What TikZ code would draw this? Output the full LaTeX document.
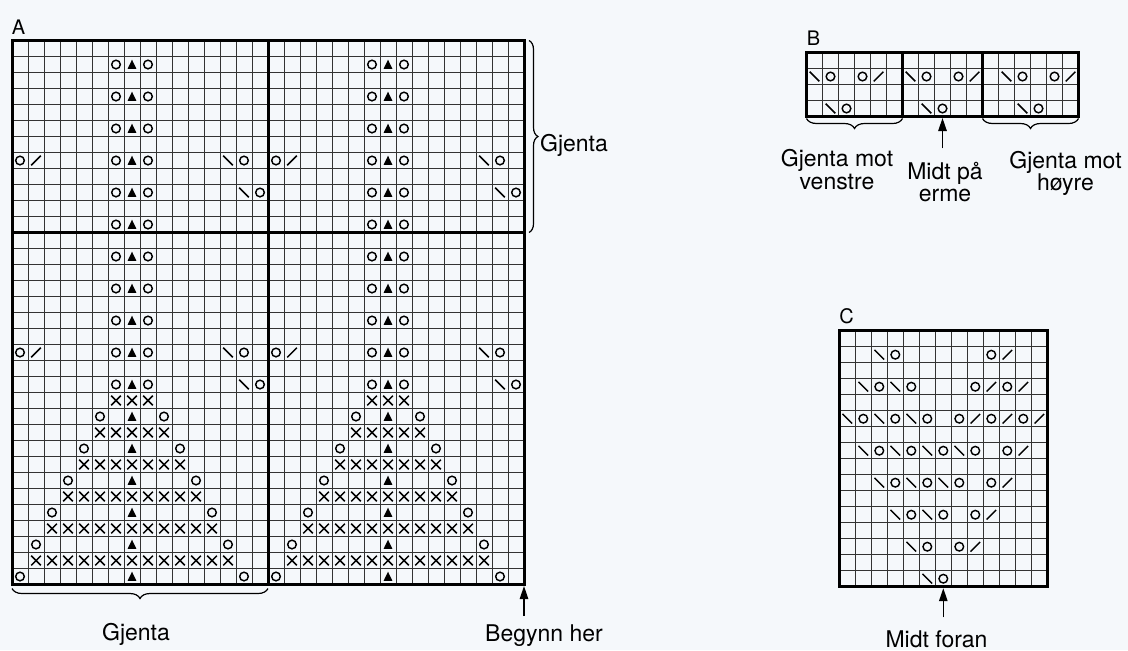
\documentclass[tikz,border=0pt]{standalone}
\usepackage{fontspec}
\setmainfont{TeX Gyre Heros}
\usetikzlibrary{arrows.meta, decorations.pathreplacing}
\definecolor{bakgrunn}{HTML}{F5F8FB}

% one symbol in the cell at column #1, row #2 (rows counted from the top)
\newcommand{\kast}[2]{\draw[tegn] (#1-0.5,#2-0.5) circle (0.27);}
\newcommand{\venstre}[2]{\draw[tegn] (#1-0.8,#2-0.8) -- (#1-0.2,#2-0.2);}
\newcommand{\hoyre}[2]{\draw[tegn] (#1-0.8,#2-0.2) -- (#1-0.2,#2-0.8);}
\newcommand{\dobbel}[2]{\fill (#1-0.78,#2-0.22) -- (#1-0.22,#2-0.22) -- (#1-0.5,#2-0.8) -- cycle;}
\newcommand{\vrang}[2]{\draw[tegn] (#1-0.8,#2-0.8) -- (#1-0.2,#2-0.2) (#1-0.8,#2-0.2) -- (#1-0.2,#2-0.8);}

\tikzset{
  rute/.style={line width=0.5pt, draw=black!80},
  ramme/.style={line width=1.5pt, line cap=rect},
  tegn/.style={line width=0.72pt},
  etikett/.style={font=\fontsize{11.5}{11.25}\selectfont, align=center, inner sep=1.5pt},
  bokstav/.style={font=\fontsize{10}{12}\selectfont, anchor=base west, inner sep=0pt},
  pil/.style={-{Triangle[length=6.5pt, width=4.2pt]}, line width=0.75pt},
  klamme/.style={decorate, decoration={brace, amplitude=5pt}, line width=0.6pt}
}

\begin{document}
\begin{tikzpicture}[x=0.5pt, y=-0.5pt]
  \fill[bakgrunn] (0,0) rectangle (1128,650);
  \useasboundingbox (0,0) rectangle (1128,650);

  % Chart A: 2 x 16 stitches, 34 rows
  \begin{scope}[shift={(12,40.5)}, x=8pt, y=-8pt]
    \foreach \i in {1,...,31} \draw[rute] (\i,0) -- (\i,34);
    \foreach \j in {1,...,33} \draw[rute] (0,\j) -- (32,\j);
    \foreach \s in {0,16} {
      % centre column
      \foreach \r in {2,4,...,22} {
        \kast{\s+7}{\r} \dobbel{\s+8}{\r} \kast{\s+9}{\r}
      }
      % side holes
      \foreach \r in {8,20} {
        \kast{\s+1}{\r} \hoyre{\s+2}{\r} \venstre{\s+14}{\r} \kast{\s+15}{\r}
      }
      \foreach \r in {10,22} {
        \venstre{\s+15}{\r} \kast{\s+16}{\r}
      }
      % tree
      \foreach \k in {1,...,6} {
        \pgfmathtruncatemacro{\fra}{8-\k}
        \pgfmathtruncatemacro{\til}{8+\k}
        \foreach \c in {\fra,...,\til} {\vrang{\s+\c}{21+2*\k}}
        \kast{\s+7-\k}{22+2*\k} \dobbel{\s+8}{22+2*\k} \kast{\s+9+\k}{22+2*\k}
      }
    }
    \draw[ramme] (0,0) rectangle (32,34);
    \draw[ramme] (16,0) -- (16,34);
    \draw[ramme] (0,12) -- (32,12);
    \coordinate (Atopp) at (32,0);
    \coordinate (Adelt) at (32,12);
    \coordinate (Avenstre) at (0,34);
    \coordinate (Amidt) at (16,34);
    \coordinate (pilA) at (32,34);
  \end{scope}

  % Chart B: 6 + 5 + 6 stitches, 4 rows
  \begin{scope}[shift={(806.5,52.5)}, x=8pt, y=-8pt]
    \foreach \i in {1,...,16} \draw[rute] (\i,0) -- (\i,4);
    \foreach \j in {1,...,3} \draw[rute] (0,\j) -- (17,\j);
    \foreach \s in {0,6,12} {
      \venstre{\s+1}{2} \kast{\s+2}{2} \kast{\s+4}{2} \hoyre{\s+5}{2}
    }
    \foreach \s in {0,6,12} {
      \venstre{\s+2}{4} \kast{\s+3}{4}
    }
    \draw[ramme] (0,0) rectangle (17,4);
    \draw[ramme] (6,0) -- (6,4);
    \draw[ramme] (11,0) -- (11,4);
    \coordinate (Bvenstre) at (0,4);
    \coordinate (Bmidt1) at (6,4);
    \coordinate (Bmidt2) at (11,4);
    \coordinate (Bhoyre) at (17,4);
    \coordinate (pilB) at (8.5,4);
  \end{scope}

  % Chart C: 13 stitches, 16 rows
  \begin{scope}[shift={(839.3,330.7)}, x=8pt, y=-8pt]
    \foreach \i in {1,...,12} \draw[rute] (\i,0) -- (\i,16);
    \foreach \j in {1,...,15} \draw[rute] (0,\j) -- (13,\j);
    \venstre{3}{2} \kast{4}{2} \kast{10}{2} \hoyre{11}{2}
    \venstre{2}{4} \kast{3}{4} \venstre{4}{4} \kast{5}{4}
    \kast{9}{4} \hoyre{10}{4} \kast{11}{4} \hoyre{12}{4}
    \foreach \c in {1,3,5} {\venstre{\c}{6} \kast{\c+1}{6}}
    \foreach \c in {8,10,12} {\kast{\c}{6} \hoyre{\c+1}{6}}
    \foreach \c in {2,4,6,8} {\venstre{\c}{8} \kast{\c+1}{8}}
    \kast{11}{8} \hoyre{12}{8}
    \foreach \c in {3,5,7} {\venstre{\c}{10} \kast{\c+1}{10}}
    \kast{10}{10} \hoyre{11}{10}
    \foreach \c in {4,6} {\venstre{\c}{12} \kast{\c+1}{12}}
    \kast{9}{12} \hoyre{10}{12}
    \venstre{5}{14} \kast{6}{14} \kast{8}{14} \hoyre{9}{14}
    \venstre{6}{16} \kast{7}{16}
    \draw[ramme] (0,0) rectangle (13,16);
    \coordinate (pilC) at (6.5,16);
  \end{scope}

  % Letters
  \node[bokstav] (bokstavA) at (11.5,34) {A};
  \node[bokstav] (bokstavB) at (806.5,45.5) {B};
  \node[bokstav] (bokstavC) at (839,323.5) {C};

  % Braces
  \draw[klamme, decoration={amplitude=4.5pt}] ([xshift=2.5pt]Atopp) -- ([xshift=2.5pt]Adelt);
  \draw[klamme, decoration={mirror}] ([yshift=-2pt]Avenstre) -- ([yshift=-2pt]Amidt);
  \draw[klamme, decoration={mirror}] ([yshift=-1pt]Bvenstre) -- ([yshift=-1pt]Bmidt1);
  \draw[klamme, decoration={mirror}] ([yshift=-1pt]Bmidt2) -- ([yshift=-1pt]Bhoyre);

  % Labels (base = last line)
  \node[etikett, anchor=base west] (gjentaA) at (536.7,151) {Gjenta};
  \node[etikett, anchor=base] (gjentaB) at (136,640.7) {Gjenta};
  \node[etikett, anchor=base] (begynn) at (544,641.7) {Begynn her};
  \node[etikett, anchor=base] (gjentaV) at (837,189) {Gjenta mot\\venstre};
  \node[etikett, anchor=base] (midtpaa) at (945,201.5) {Midt på\\erme};
  \node[etikett, anchor=base] (gjentaH) at (1065.5,190.5) {Gjenta mot\\høyre};
  \node[etikett, anchor=base, inner sep=0.5pt] (midtforan) at (936.5,647.5) {Midt foran};

  % Arrows
  \draw[pil, shorten <=2.7pt] (begynn.north -| pilA) -- ([yshift=-0.75pt]pilA);
  \draw[pil, shorten <=5pt] (midtpaa.north -| pilB) -- ([yshift=-0.75pt]pilB);
  \draw[pil, shorten <=6pt] (midtforan.north -| pilC) -- ([yshift=-0.75pt]pilC);
\end{tikzpicture}
\end{document}
